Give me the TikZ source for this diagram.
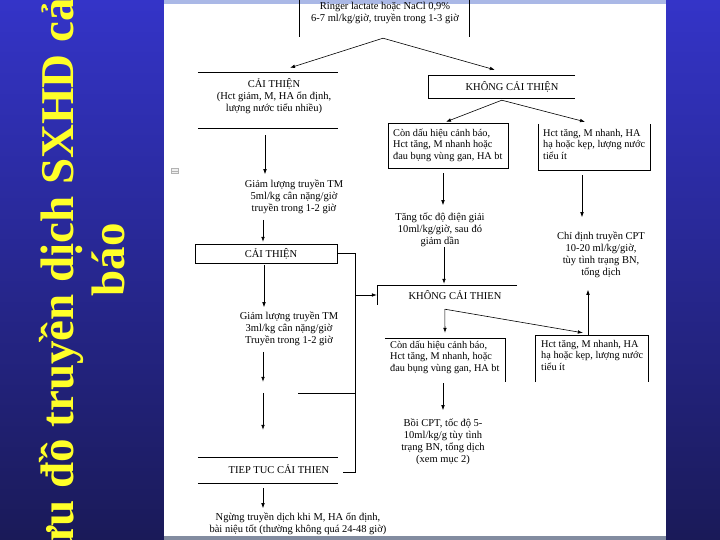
\documentclass[tikz,border=0pt]{standalone}
\usepackage{fontspec}
\usepackage{graphicx}
\setmainfont{Liberation Serif}
\usetikzlibrary{arrows.meta,calc}
\definecolor{bluetop}{RGB}{52,52,200}
\definecolor{bluebot}{RGB}{26,26,88}
\definecolor{titleyellow}{RGB}{255,255,40}
\definecolor{stripblue}{RGB}{170,184,230}
\definecolor{stripgray}{RGB}{130,140,160}
\begin{document}
\begin{tikzpicture}[x=1pt,y=-1pt,
  txt/.style={font=\fontsize{10.5}{12}\selectfont, inner sep=0pt, align=center},
  txtl/.style={font=\fontsize{10.3}{11.5}\selectfont, inner sep=0pt, align=left, anchor=west},
  boxarea/.style={draw=none, inner sep=0pt},
  ln/.style={line width=0.6pt, black},
  arr/.style={ln, -{Latex[length=5pt,width=3.6pt]}},
  ttl/.style={text=titleyellow, font=\bfseries\fontsize{47}{52}\selectfont, rotate=90, anchor=base, inner sep=0pt}
]
\useasboundingbox (0,0) rectangle (720,540);
% backgrounds
\shade[top color=bluetop, bottom color=bluebot] (0,0) rectangle (164,540);
\fill[white] (164,0) rectangle (666,540);
\shade[top color=bluetop, bottom color=bluebot] (666,0) rectangle (720,540);
\fill[stripblue] (164,0) rectangle (666,4);
\fill[stripgray] (164,536) rectangle (666,540);

% title
\node[ttl] (title1) at (73,266) {Lưu đồ truyền dịch SXHD cảnh};
\node[ttl] (title2) at (124,260) {báo};

% frames
\node[boxarea, minimum width=170pt, minimum height=50pt] (ringerbox) at (384,12) {};
\node[boxarea, minimum width=140pt, minimum height=55pt] (cai1box) at (268,100.5) {};
\node[boxarea, minimum width=147pt, minimum height=22pt] (khong1box) at (501.5,87) {};
\node[boxarea, minimum width=120pt, minimum height=44pt] (lb1box) at (448,146) {};
\node[boxarea, minimum width=112pt, minimum height=46pt] (rb1box) at (594,147) {};
\node[boxarea, minimum width=142pt, minimum height=19pt] (cai2box) at (266,253.5) {};
\node[boxarea, minimum width=140pt, minimum height=26pt] (tiepbox) at (268,470) {};
\node[boxarea, minimum width=140pt, minimum height=20pt] (khong2box) at (447,295) {};
\node[boxarea, minimum width=120pt, minimum height=44pt] (lb2box) at (445,360) {};
\node[boxarea, minimum width=113pt, minimum height=47pt] (rb2box) at (591.5,358.5) {};

% texts
\node[txt] (ringer) at (385,12.5) {Ringer lactate hoặc NaCl 0,9\%\\6-7 ml/kg/giờ, truyền trong 1-3 giờ};
\node[txt] (cai1t) at (274,96) {CẢI THIỆN\\(Hct giảm, M, HA ổn định,\\lượng nước tiểu nhiều)};
\node[txt] (khong1t) at (512,87) {KHÔNG CẢI THIỆN};
\node[txtl] (lb1t) at (393,145) {Còn dấu hiệu cảnh báo,\\Hct tăng, M nhanh hoặc\\đau bụng vùng gan, HA bt};
\node[txtl] (rb1t) at (543,144) {Hct tăng, M nhanh, HA\\hạ hoặc kẹp, lượng nước\\tiểu ít};
\node[txt] (giam1) at (294,197) {Giảm lượng truyền TM\\5ml/kg cân nặng/giờ\\truyền trong 1-2 giờ};
\node[txt] (cai2t) at (271,254) {CẢI THIỆN};
\node[txt] (giam2) at (289,329) {Giảm lượng truyền TM\\3ml/kg cân nặng/giờ\\Truyền trong 1-2 giờ};
\node[txt] (tiept) at (279,469) {TIEP TUC CẢI THIEN};
\node[txt] (ngung) at (298,524) {Ngừng truyền dịch khi M, HA ổn định,\\bài niệu tốt (thường không quá 24-48 giờ)};
\node[txt] (tang) at (440,230) {Tăng tốc độ điện giải\\10ml/kg/giờ, sau đó\\giảm dần};
\node[txt] (khong2t) at (455,295) {KHÔNG CẢI THIEN};
\node[txtl] (lb2t) at (390,357) {Còn dấu hiệu cảnh báo,\\Hct tăng, M nhanh, hoặc\\đau bụng vùng gan, HA bt};
\node[txtl] (rb2t) at (541,355) {Hct tăng, M nhanh, HA\\hạ hoặc kẹp, lượng nước\\tiểu ít};
\node[txt] (chidinh) at (601,255) {Chỉ định truyền CPT\\10-20 ml/kg/giờ,\\tùy tình trạng BN,\\tổng dịch};
\node[txt] (boi) at (443,442) {Bồi CPT, tốc độ 5-\\10ml/kg/g tùy tình\\trạng BN, tổng dịch\\(xem mục 2)};

% icon
\node[draw=gray!60, fill=gray!12, line width=0.4pt, minimum width=7pt, minimum height=5pt, inner sep=0pt] (icon) at (175,171) {};
\draw[gray!60, line width=0.4pt] (icon.west) -- (icon.east);

% box borders
\draw[ln] (ringerbox.north west) -- (ringerbox.south west);
\draw[ln] (ringerbox.north east) -- (ringerbox.south east);
\draw[ln] (cai1box.north west) -- (cai1box.north east);
\draw[ln] (cai1box.south west) -- (cai1box.south east);
\draw[ln] (khong1box.north east) -- (khong1box.north west) -- (khong1box.south west) -- (khong1box.south east);
\draw[ln] (lb1box.north west) rectangle (lb1box.south east);
\draw[ln] (rb1box.north west) -- (rb1box.south west) -- (rb1box.south east) -- (rb1box.north east);
\draw[ln] (cai2box.north west) rectangle (cai2box.south east);
\draw[ln] (tiepbox.north west) -- (tiepbox.north east);
\draw[ln] (tiepbox.south west) -- (tiepbox.south east);
\draw[ln] (khong2box.north east) -- (khong2box.north west) -- (khong2box.south west);
\draw[ln] (lb2box.north west) -- (lb2box.north east) -- (lb2box.south east);
\draw[ln] (rb2box.south west) -- (rb2box.north west) -- (rb2box.north east) -- (rb2box.south east);

% arrows
\coordinate (split1) at ($(ringerbox.south)+(-1,1)$);
\draw[arr] (split1) -- ($(cai1box.north)+(22,-5)$);
\draw[arr] (split1) -- ($(khong1box.north west)+(67,-6)$);
\coordinate (split2) at ($(khong1box.south west)+(74,2)$);
\draw[arr] (split2) -- ($(lb1box.north)+(-2,-2)$);
\draw[arr] (split2) -- ($(rb1box.north)+(-9,-2)$);

\draw[arr] ($(cai1box.south)+(-3,7)$) -- ++(0,39);
\draw[arr] ($(cai2box.north)+(-3,-24)$) -- ($(cai2box.north)+(-3,-2)$);
\draw[arr] ($(cai2box.south)+(-2,2)$) -- ++(0,42);
\draw[arr] ($(tiepbox.north)+(-5,-105)$) -- ++(0,30);
\draw[arr] ($(tiepbox.north)+(-5,-64)$) -- ++(0,37);
\draw[arr] ($(tiepbox.south)+(-5,5)$) -- ++(0,20);

\draw[ln] (cai2box.east) -- ++(18,0) coordinate (j1) -- ($(j1)+(0,219)$) coordinate (j2) -- ++(-12,0);
\draw[arr] ($(j1)+(0,41.5)$) -- (khong2box.west);
\draw[ln] ($(j1)+(0,139.5)$) -- ++(-57,0);

\draw[arr] ($(lb1box.south)+(-5,5)$) -- ++(0,32);
\draw[arr] ($(khong2box.north)+(-3,-38)$) -- ($(khong2box.north)+(-3,-1)$);
\coordinate (split3) at ($(khong2box.south west)+(68,4)$);
\draw[arr] (split3) -- ($(lb2box.north)+(0,-5)$);
\draw[arr] (split3) -- ($(rb2box.north west)+(48,-2)$);
\draw[arr] ($(lb2box.south)+(-2,1)$) -- ++(0,27);

\draw[arr] ($(rb1box.south)+(-12,5)$) -- ++(0,42);
\draw[arr] ($(rb2box.north)+(-3.5,0)$) -- ++(0,-45);
\end{tikzpicture}
\end{document}
